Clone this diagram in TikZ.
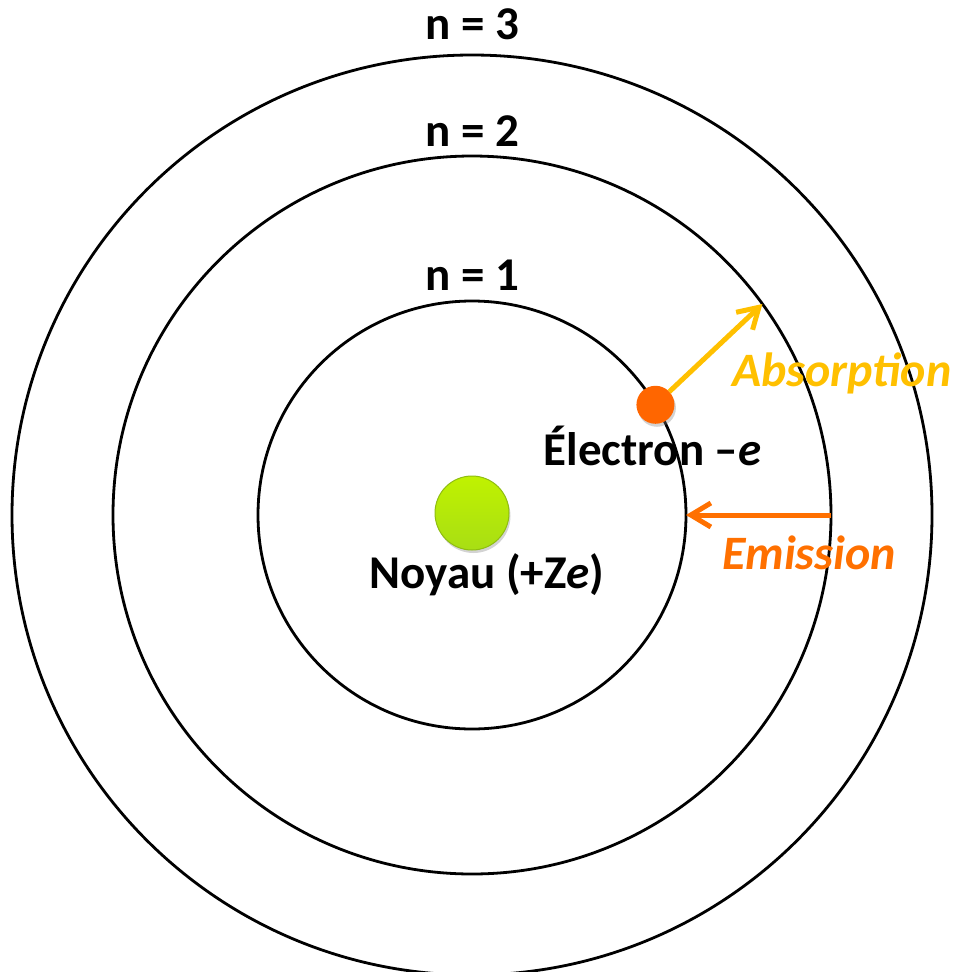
\documentclass[tikz,border=0pt]{standalone}
\usepackage{fontspec}
\setmainfont{Carlito}
\usetikzlibrary{arrows.meta, positioning, shadows}
\definecolor{absorbcol}{RGB}{255,192,0}
\definecolor{emitcol}{RGB}{255,112,0}
\definecolor{eleccol}{RGB}{255,102,0}
\definecolor{limetop}{RGB}{192,242,0}
\definecolor{limebot}{RGB}{168,222,20}
\tikzset{
    orbit/.style = {circle, draw=black, line width=2.8pt, inner sep=0pt, outer sep=0pt},
    level/.style = {inner sep=0pt, font=\fontsize{47}{56}\selectfont\bfseries},
    particle/.style = {circle, inner sep=0pt, outer sep=0pt,
                       drop shadow={opacity=0.35, shadow xshift=1.5pt, shadow yshift=-3pt}},
    tag/.style = {inner sep=0pt, font=\fontsize{48}{56}\selectfont\bfseries\itshape},
    jump/.style = {line width=5pt, -{Straight Barb[length=20pt, width=24pt, line width=5pt]}},
}

\begin{document}
\begin{tikzpicture}[x=1pt, y=-1pt]
\useasboundingbox (0,0) rectangle (954,972);
\coordinate (c) at (472,515);

% Orbits
\node (orbit3) [orbit, minimum size=920pt] at (c) {};
\node (orbit2) [orbit, minimum size=718pt] at (c) {};
\node (orbit1) [orbit, minimum size=428pt] at (c) {};

\node (lab3) [level, above=15pt of orbit3.north] {n = 3};
\node (lab2) [level, above=9pt of orbit2.north] {n = 2};
\node (lab1) [level, above=10pt of orbit1.north] {n = 1};

% Nucleus and electron
\node (nucleus) [particle, minimum size=74pt, draw=limebot!85!black, line width=1pt,
                 top color=limetop, bottom color=limebot] at (472,513) {};
\node (noyau) [level, below=3pt of nucleus, xshift=15pt] {Noyau (+Z\textit{e})};
\node (electron) [particle, minimum size=38pt, fill=eleccol] at (orbit1.31) {};
\node (elabel) [level, below=2pt of electron, xshift=-3pt] {Électron --\textit{e}};

% Arrows
\draw[jump, absorbcol] (electron) -- (orbit2.36);
\draw[jump, emitcol] (orbit2.east) -- (orbit1.east);
\node (absorb) [tag, absorbcol, anchor=west] at (732,373) {Absorption};
\node (emit) [tag, emitcol, anchor=west] at (722,553) {Emission};
\end{tikzpicture}
\end{document}
